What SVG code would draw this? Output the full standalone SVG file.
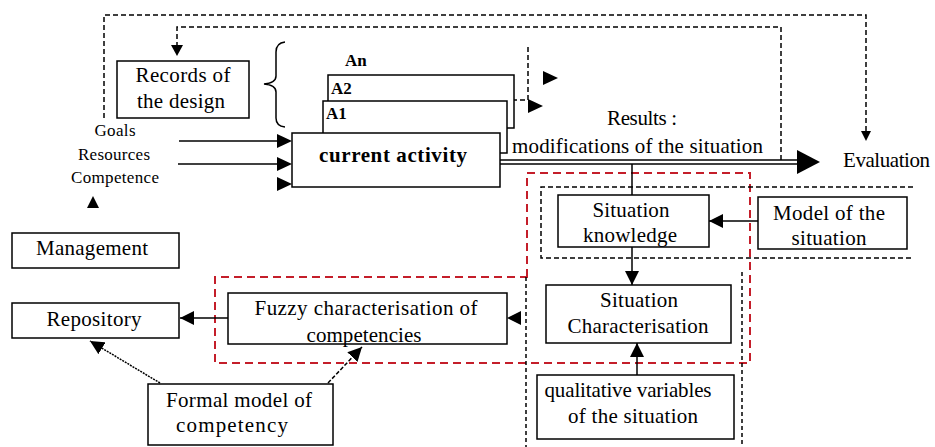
<svg xmlns="http://www.w3.org/2000/svg" width="935" height="447" viewBox="0 0 935 447">
<style>
.box{fill:#fff;stroke:#000;stroke-width:1.5}
.t{font-family:"Liberation Serif",serif;font-size:21px;fill:#000;text-anchor:middle}
.ts{font-family:"Liberation Serif",serif;font-size:21px;fill:#000;text-anchor:start}
.s{font-family:"Liberation Serif",serif;font-size:17px;fill:#000;text-anchor:middle}
.b{font-family:"Liberation Serif",serif;font-weight:bold;fill:#000}
.ln{fill:none;stroke:#000;stroke-width:1.5}
.dash{fill:none;stroke:#000;stroke-width:1.5;stroke-dasharray:5,3}
.dot{fill:none;stroke:#000;stroke-width:1.5;stroke-dasharray:4,3}
.red{fill:none;stroke:#c41e2a;stroke-width:2;stroke-dasharray:8,5}
.ah{fill:#000}
</style>
<defs>
<marker id="arr2" viewBox="0 0 10 10" refX="10" refY="5" markerWidth="14" markerHeight="14" markerUnits="userSpaceOnUse" orient="auto"><path d="M0,0 L10,5 L0,10 Z" fill="#000"/></marker>
</defs>
<rect width="935" height="447" fill="#fff"/>

<g id="regions">
<path class="red" d="M527,277 L527,173 L750,173 L750,363 L215,363 L215,277 Z"/>
<path class="dash" d="M913,187 L541,187 L541,258 L913,258"/>
<line class="dot" x1="526" y1="277" x2="526" y2="447"/>
<line class="dot" x1="742" y1="272" x2="742" y2="447"/>
</g>

<g id="connectors">
<path class="dash" d="M104,118 L104,15 L866,15 L866,132"/>
<path class="ah" d="M861,131 L871,131 L866,141 Z"/>
<path class="dash" d="M781,160 L781,27 L177,27 L177,46"/>
<path class="ah" d="M171,45 L183,45 L177,56 Z"/>
<path class="ln" stroke-width="1" d="M285,42 Q276,43 276,52 L276,76 Q276,83 264,84 Q276,85 276,92 L276,118 Q276,126 285,127"/>
<line class="ln" x1="179" y1="141" x2="280" y2="141"/>
<path class="ah" d="M277,134 L292,141 L277,148 Z"/>
<line class="ln" x1="178" y1="164" x2="280" y2="164"/>
<path class="ah" d="M277,157 L292,164 L277,171 Z"/>
<path class="ah" d="M277,177 L292,184 L277,191 Z"/>
<path class="dash" d="M528,47 L528,100 L514,100"/>
<path class="ah" d="M543,71 L558,78 L543,85 Z"/>
<path class="ah" d="M528,99 L543,106 L528,113 Z"/>
<line class="ln" x1="500" y1="160" x2="800" y2="160"/>
<line class="ln" x1="500" y1="164" x2="800" y2="164"/>
<path class="ah" d="M797,150 L820,162 L797,174 Z"/>
<line class="ln" x1="632" y1="164" x2="632" y2="195"/>
<line class="ln" x1="632" y1="247" x2="632" y2="285" marker-end="url(#arr2)"/>
<line class="ln" x1="758" y1="221" x2="709" y2="221" marker-end="url(#arr2)"/>
<line class="ln" x1="637" y1="375" x2="637" y2="343" marker-end="url(#arr2)"/>
<path class="ah" d="M521,311 L507,318 L521,325 Z"/>
<line class="ln" x1="228" y1="318" x2="180" y2="318" marker-end="url(#arr2)"/>
<path class="ah" d="M93,196 L87,208 L99,208 Z"/>
<line class="ln" stroke-width="1.2" stroke-dasharray="2,1" x1="160" y1="383" x2="90" y2="341" marker-end="url(#arr2)"/>
<line class="ln" stroke-width="1.2" stroke-dasharray="4,2" x1="328" y1="383" x2="362" y2="347" marker-end="url(#arr2)"/>
</g>

<g id="records"><rect class="box" x="117" y="61" width="132" height="57"/><text class="t" x="183" y="82" textLength="95">Records of</text><text class="t" x="181" y="108" textLength="88">the design</text></g>
<g id="inputs-labels"><text class="s" x="115" y="136" textLength="41">Goals</text><text class="s" x="114" y="160" textLength="72">Resources</text><text class="s" x="115" y="183" textLength="88">Competence</text></g>
<g id="an"><text class="b" x="345" y="66" font-size="17">An</text></g>
<g id="a2"><rect class="box" x="328" y="75" width="186" height="53"/><text class="b" x="331" y="94" font-size="17">A2</text></g>
<g id="a1"><rect class="box" x="323" y="101" width="184" height="52"/><text class="b" x="326" y="119" font-size="17">A1</text></g>
<g id="current-activity"><rect class="box" x="292" y="133" width="208" height="54"/><text class="b" x="393" y="162" font-size="21" text-anchor="middle" textLength="148">current activity</text></g>
<g id="results"><text class="ts" x="607" y="125" textLength="70">Results :</text><text class="ts" x="512" y="153" textLength="251">modifications of the situation</text></g>
<g id="evaluation"><text class="ts" x="843" y="167" textLength="87">Evaluation</text></g>
<g id="situation-knowledge"><rect class="box" x="558" y="195" width="151" height="52"/><text class="t" x="631" y="217" textLength="77">Situation</text><text class="t" x="630" y="242" textLength="94">knowledge</text></g>
<g id="model-situation"><rect class="box" x="758" y="197" width="149" height="52"/><text class="t" x="829" y="220" textLength="112">Model of the</text><text class="t" x="829" y="245" textLength="75">situation</text></g>
<g id="situation-characterisation"><rect class="box" x="546" y="285" width="185" height="58"/><text class="t" x="639" y="307" textLength="78">Situation</text><text class="t" x="638" y="333" textLength="141">Characterisation</text></g>
<g id="qualitative"><rect class="box" x="537" y="375" width="197" height="64"/><text class="t" x="628" y="397" textLength="167">qualitative variables</text><text class="t" x="633" y="423" textLength="130">of the situation</text></g>
<g id="fuzzy"><rect class="box" x="228" y="293" width="279" height="51"/><text class="t" x="366" y="315" textLength="223">Fuzzy characterisation  of</text><text class="t" x="364" y="342" textLength="115">competencies</text></g>
<g id="management"><rect class="box" x="12" y="233" width="167" height="35"/><text class="t" x="92" y="255" textLength="112">Management</text></g>
<g id="repository"><rect class="box" x="12" y="303" width="167" height="35"/><text class="t" x="94" y="326" textLength="95">Repository</text></g>
<g id="formal-model"><rect class="box" x="148" y="384" width="185" height="61"/><text class="t" x="239" y="407" textLength="146">Formal model of</text><text class="t" x="232" y="432" textLength="112">competency</text></g>
</svg>
